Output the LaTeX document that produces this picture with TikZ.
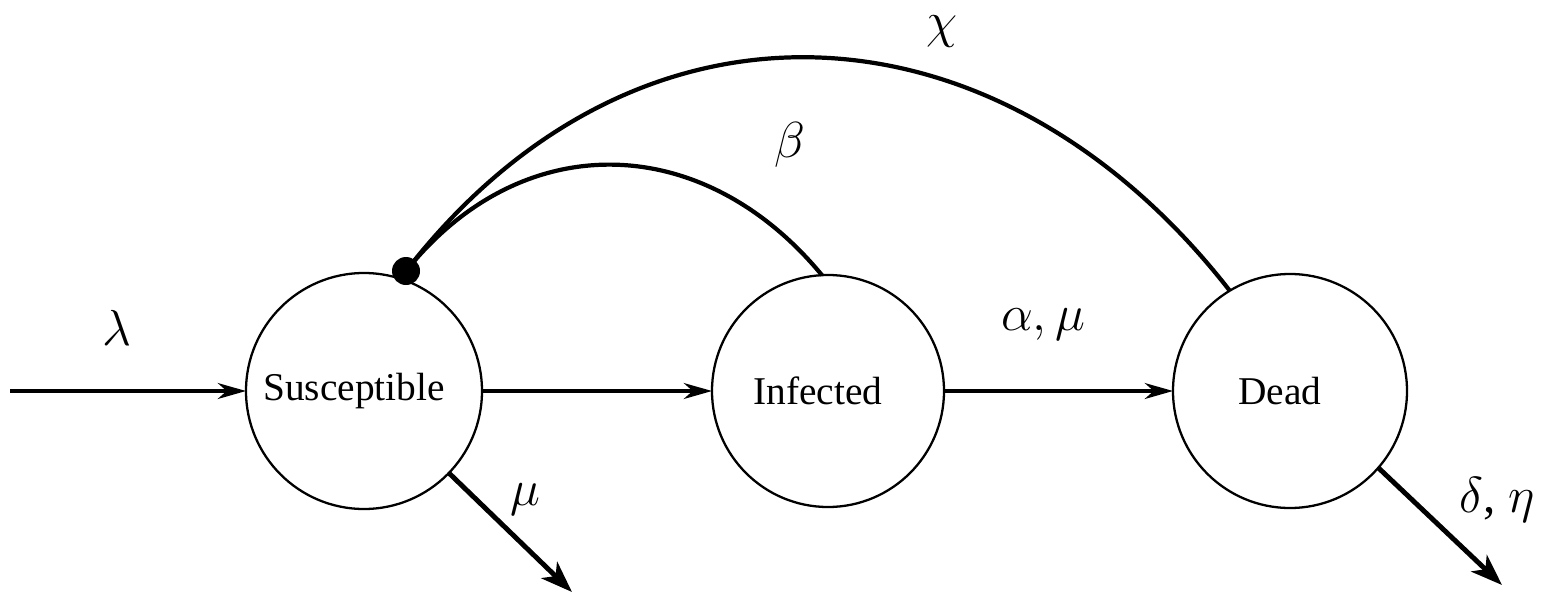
\documentclass[tikz,border=0pt]{standalone}
\usepackage{fontspec}
\setmainfont{Liberation Serif}
\usetikzlibrary{arrows.meta}
\tikzset{
  state/.style={draw, circle, line width=0.65pt, inner sep=0pt, outer sep=0pt, font=\fontsize{11.2}{13}\selectfont},
  flow/.style={line width=1.1pt, -{Stealth[length=8pt,width=4.5pt,inset=2.5pt]}},
  outflow/.style={line width=1.4pt, -{Stealth[length=9pt,width=6.5pt,inset=2.5pt]}},
  contact/.style={line width=1.2pt},
  dotnode/.style={circle, fill=black, inner sep=0pt, minimum size=0.28cm},
  rate/.style={font=\fontsize{14}{16}\selectfont, inner sep=0pt}
}
\begin{document}
\begin{tikzpicture}
\useasboundingbox (0,0) rectangle (15.44,5.94);
\node[state, minimum size=2.36cm] (S) at (3.64,2.03) {\hspace*{-0.2cm}Susceptible};
\node[state, minimum size=2.32cm] (I) at (8.28,2.03) {\hspace*{-0.2cm}Infected};
\node[state, minimum size=2.34cm] (D) at (12.90,2.03) {\hspace*{-0.2cm}Dead};
\coordinate (in) at (0.10,2.03);
\coordinate (muout) at (5.72,0.02);
\coordinate (dout) at (15.02,0.09);
\node[dotnode] (dot) at (4.06,3.23) {};

\draw[flow] (in) -- (S);
\draw[flow] (S) -- (I);
\draw[flow] (I) -- (D);
\draw[outflow] (S.-44) -- (muout);
\draw[outflow] (D.-41) -- (dout);

\draw[contact] (dot.center) .. controls (5.22,4.68) and (7.03,4.63) .. (I.93);
\draw[contact] (dot.center) .. controls (6.37,6.21) and (9.98,6.01) .. (D.121);

\node[rate] (lam) at (1.17,2.66) {$\lambda$};
\node[rate] (mu) at (5.25,0.94) {$\mu$};
\node[rate] (am) at (10.43,2.69) {$\alpha,\mu$};
\node[rate] (de) at (14.97,0.94) {$\delta$, $\eta$};
\node[rate] (be) at (7.90,4.49) {$\beta$};
\node[rate] (chi) at (9.42,5.62) {$\chi$};
\end{tikzpicture}
\end{document}
